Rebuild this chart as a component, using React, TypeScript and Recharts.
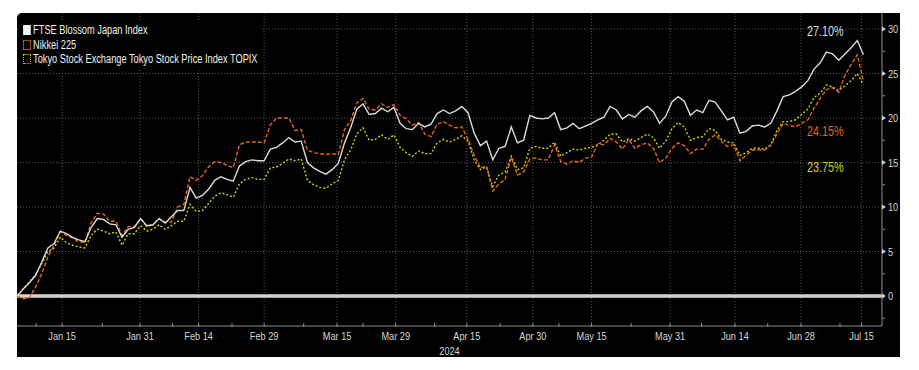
import React from "react";
import { LineChart, Line, XAxis, YAxis, ReferenceLine } from "recharts";

// Cumulative return (%) by trading day since 4 Jan 2024
const ftseBlossom = [
  0, 0.8, 1.5, 2.3, 3.8, 5.4, 5.9, 7.3, 7.0, 6.6, 6.3, 6.1, 7.7, 8.7, 8.6, 8.1, 8.0, 6.6, 7.5, 7.7,
  8.7, 7.9, 8.0, 8.7, 8.2, 8.9, 9.6, 9.6, 12.2, 11.0, 11.3, 12.0, 13.0, 13.4, 13.1, 12.9, 14.6, 15.1, 15.3, 15.2,
  15.2, 16.5, 16.7, 17.2, 17.8, 17.3, 17.4, 15.0, 14.4, 14.0, 13.7, 14.2, 14.9, 17.2, 18.9, 21.0, 21.6, 20.4, 20.5, 21.1,
  20.7, 21.2, 19.4, 18.8, 18.7, 19.4, 19.0, 19.3, 20.5, 20.9, 20.5, 20.8, 21.3, 20.6, 18.3, 16.9, 17.4, 15.3, 16.6, 16.8,
  19.0, 17.2, 17.5, 20.3, 20.0, 19.9, 20.0, 20.6, 18.7, 18.9, 19.4, 18.8, 19.1, 19.4, 19.8, 20.1, 21.3, 20.9, 19.9, 20.4,
  20.1, 20.8, 21.3, 20.7, 19.4, 20.2, 21.8, 22.4, 21.9, 20.3, 20.9, 20.6, 22.0, 21.8, 20.8, 19.8, 20.1, 18.3, 18.5, 19.1,
  19.2, 19.0, 19.4, 20.8, 22.4, 22.6, 23.0, 23.5, 24.2, 25.5, 26.2, 27.4, 27.2, 26.5, 27.2, 27.9, 28.7, 27.1,
];
const nikkei225 = [
  0, -0.3, -0.2, 1.0, 2.5, 4.4, 5.7, 7.2, 6.8, 6.5, 6.1, 6.0, 8.2, 9.3, 9.2, 8.4, 8.4, 6.8, 7.8, 7.8,
  8.7, 7.8, 8.0, 8.7, 8.3, 8.3, 10.0, 10.3, 13.4, 13.0, 13.5, 14.5, 15.1, 15.0, 14.7, 14.4, 17.0, 17.3, 17.3, 17.3,
  17.2, 19.2, 20.0, 20.0, 20.0, 18.6, 18.7, 16.4, 16.1, 16.0, 15.9, 16.0, 15.9, 18.7, 19.7, 21.7, 22.2, 21.0, 20.9, 21.6,
  21.2, 21.5, 20.3, 19.9, 19.2, 19.5, 18.2, 17.9, 19.3, 19.6, 19.2, 18.9, 19.0, 17.6, 15.8, 14.4, 14.6, 11.8, 12.6, 13.1,
  15.6, 13.6, 13.9, 15.4, 15.5, 15.3, 15.3, 17.0, 15.1, 14.8, 15.2, 15.0, 15.5, 15.6, 17.1, 17.0, 17.7, 17.3, 16.5, 17.6,
  16.6, 17.0, 17.2, 16.6, 15.0, 15.5, 16.6, 17.2, 16.9, 16.0, 16.5, 16.5, 17.6, 18.1, 17.4, 16.8, 17.0, 15.2, 15.8, 16.4,
  16.4, 16.4, 16.9, 18.2, 19.4, 19.2, 19.0, 19.4, 19.8, 21.1, 22.2, 23.2, 23.4, 22.9, 24.8, 26.0, 27.1, 24.15,
];
const topix = [
  0, 0.8, 1.6, 2.4, 3.6, 5.0, 5.4, 6.6, 6.0, 5.7, 5.5, 5.4, 6.8, 7.5, 7.3, 7.0, 7.2, 5.7, 7.0, 7.0,
  7.9, 7.3, 7.5, 8.0, 7.5, 7.9, 8.4, 8.4, 10.3, 9.5, 9.6, 10.4, 11.2, 11.6, 11.4, 11.1, 12.6, 13.1, 13.3, 13.1,
  13.1, 14.4, 14.5, 14.9, 15.4, 15.2, 15.4, 13.0, 12.5, 12.2, 12.1, 12.6, 13.0, 15.3, 16.4, 18.2, 18.9, 17.5, 17.6, 18.1,
  17.6, 18.1, 16.7, 16.1, 15.7, 16.3, 16.0, 16.0, 17.2, 17.6, 17.3, 17.6, 18.0, 17.4, 15.3, 14.2, 14.5, 12.3, 13.6, 13.9,
  15.7, 14.2, 14.4, 16.6, 16.8, 16.6, 16.6, 17.3, 15.7, 16.1, 16.5, 16.4, 16.6, 16.7, 17.0, 17.5, 18.2, 18.2, 17.3, 17.7,
  17.4, 17.8, 18.2, 17.8, 16.6, 17.4, 18.8, 19.5, 19.0, 17.5, 17.8, 17.9, 18.8, 18.6, 17.6, 17.3, 17.2, 15.8, 16.1, 16.6,
  16.6, 16.5, 17.0, 18.6, 19.6, 19.6, 19.8, 20.4, 21.0, 22.3, 22.8, 23.7, 23.5, 23.1, 23.6, 24.2, 25.0, 23.75,
];

const seriesNames = [
  "FTSE Blossom Japan Index",
  "Nikkei 225",
  "Tokyo Stock Exchange Tokyo Stock Price Index TOPIX",
];
const endLabels = ["27.10%", "24.15%", "23.75%"];

const xTickLabels = ["Jan 15", "Jan 31", "Feb 14", "Feb 29", "Mar 15", "Mar 29", "Apr 15", "Apr 30", "May 15", "May 31", "Jun 14", "Jun 28", "Jul 15"];
const xTickDays = [7.3, 19.9, 29.4, 40, 51.8, 61.3, 72.8, 83.5, 93, 105.7, 116.2, 126.9, 136.7];
const xMinorDays = [3.1, 13.8, 25.2, 34.8, 46.4, 56, 67.6, 78.2, 87.7, 99.4, 110.8, 121.5, 133.2];
const yearLabel = "2024";
const yearDay = 70;
const yMajor = [0, 5, 10, 15, 20, 25, 30];
const yMinor = [-2.5, 2.5, 7.5, 12.5, 17.5, 22.5, 27.5];

const data = ftseBlossom.map((v, i) => ({
  day: i,
  ftse: v,
  nikkei: nikkei225[i],
  topix: topix[i],
}));

const FONT = '"Liberation Sans", Arial, sans-serif';
const SQUEEZE = 0.8;
const WHITE = "#dadada";
const ORANGE = "#e2661c";
const YELLOW = "#d2d200";
const GRID = "#5a5a5a";
const AXIS = "#8c8c8c";
const TEXT = "#d6d6d6";

const NarrowText = ({ x, y, anchor, children, size = 11.5, fill = TEXT }: any) => (
  <g transform={`translate(${x},${y}) scale(${SQUEEZE},1)`}>
    <text x={0} y={0} textAnchor={anchor} fill={fill} fontSize={size} fontFamily={FONT}>
      {children}
    </text>
  </g>
);

const XTick = (props: any) => {
  const { x, y, payload } = props;
  const idx = xTickDays.indexOf(payload.value);
  return (
    <g>
      <line x1={x} x2={x} y1={y - 3} y2={y + 1} stroke={AXIS} strokeWidth={1} />
      {idx >= 0 && (
        <NarrowText x={x} y={y + 14} anchor="middle">
          {xTickLabels[idx]}
        </NarrowText>
      )}
    </g>
  );
};

const YearTick = (props: any) => {
  const { x, y } = props;
  return (
    <NarrowText x={x} y={y + 13} anchor="middle">
      {yearLabel}
    </NarrowText>
  );
};

const YTick = (props: any) => {
  const { x, y, payload } = props;
  const major = yMajor.indexOf(payload.value) >= 0;
  if (!major) {
    return <line x1={x} x2={x + 3} y1={y} y2={y} stroke={AXIS} strokeWidth={1} />;
  }
  return (
    <g>
      <polygon points={`${x},${y - 2.5} ${x + 4},${y} ${x},${y + 2.5}`} fill="#cfcfcf" />
      <NarrowText x={x + 6} y={y + 4} anchor="start">
        {payload.value}
      </NarrowText>
    </g>
  );
};

const LegendIcon = ({ kind }: { kind: number }) => {
  if (kind === 0) {
    return <span style={{ display: "inline-block", width: 10, height: 10, background: "#f2f2f2", marginRight: 3 }} />;
  }
  const color = kind === 1 ? ORANGE : YELLOW;
  return (
    <span
      style={{
        display: "inline-block",
        width: 8,
        height: 8,
        border: `1px ${kind === 1 ? "dashed" : "dotted"} ${color}`,
        marginRight: 3,
      }}
    />
  );
};

export default function App() {
  return (
    <div style={{ position: "relative", width: 903, height: 354 }}>
      <div
        style={{
          position: "absolute",
          left: 9,
          top: 5,
          width: 883,
          height: 344,
          background: "#000",
          borderTopLeftRadius: 5,
          overflow: "hidden",
        }}
      >
        <LineChart width={883} height={344} data={data} margin={{ top: 0, right: 0, bottom: 0, left: 0 }}>
          <XAxis
            dataKey="day"
            type="number"
            domain={[0, 140]}
            ticks={[...xTickDays, ...xMinorDays]}
            interval={0}
            tick={<XTick />}
            tickLine={false}
            tickSize={0}
            tickMargin={0}
            axisLine={{ stroke: AXIS, strokeWidth: 1 }}
            height={16}
            allowDataOverflow
          />
          <XAxis
            xAxisId="year"
            dataKey="day"
            type="number"
            domain={[0, 140]}
            ticks={[yearDay]}
            interval={0}
            tick={<YearTick />}
            tickLine={false}
            tickSize={0}
            tickMargin={0}
            axisLine={false}
            height={15}
          />
          <YAxis
            orientation="right"
            type="number"
            domain={[-3.37, 31.8]}
            ticks={[...yMajor, ...yMinor]}
            interval={0}
            tick={<YTick />}
            tickLine={false}
            tickSize={0}
            tickMargin={0}
            axisLine={{ stroke: AXIS, strokeWidth: 1 }}
            width={18}
            allowDataOverflow
          />
          {yMajor.filter((v) => v !== 0).map((v) => (
            <ReferenceLine key={`h${v}`} y={v} stroke={GRID} strokeDasharray="1 2" strokeWidth={1} />
          ))}
          {xTickDays.map((v) => (
            <ReferenceLine key={`v${v}`} x={v} stroke={GRID} strokeDasharray="1 2" strokeWidth={1} />
          ))}
          <ReferenceLine y={0} stroke="#d4d4d4" strokeWidth={3.5} />
          <Line dataKey="topix" stroke={YELLOW} strokeWidth={1.4} strokeDasharray="2 2" dot={false} isAnimationActive={false} />
          <Line dataKey="nikkei" stroke={ORANGE} strokeWidth={1.4} strokeDasharray="4 2" dot={false} isAnimationActive={false} />
          <Line dataKey="ftse" stroke={WHITE} strokeWidth={1.4} dot={false} isAnimationActive={false} />
        </LineChart>

        <div
          style={{
            position: "absolute",
            left: 3,
            top: 8,
            padding: "2px 6px 3px 4px",
            background: "#000",
            fontFamily: FONT,
            fontSize: 12,
            color: "#f0f0f0",
            lineHeight: "14.5px",
            transform: "scaleX(0.77)",
            transformOrigin: "left top",
          }}
        >
          {seriesNames.map((n, i) => (
            <div key={n} style={{ display: "flex", alignItems: "center", whiteSpace: "nowrap" }}>
              <LegendIcon kind={i} />
              <span>{n}</span>
            </div>
          ))}
        </div>

        {endLabels.map((t, i) => (
          <div
            key={t}
            style={{
              position: "absolute",
              left: 790,
              top: [11, 111, 146.5][i],
              fontFamily: FONT,
              fontSize: 14,
              lineHeight: "15px",
              color: [WHITE, ORANGE, YELLOW][i],
              transform: "scaleX(0.77)",
              transformOrigin: "left top",
            }}
          >
            {t}
          </div>
        ))}
      </div>
    </div>
  );
}
